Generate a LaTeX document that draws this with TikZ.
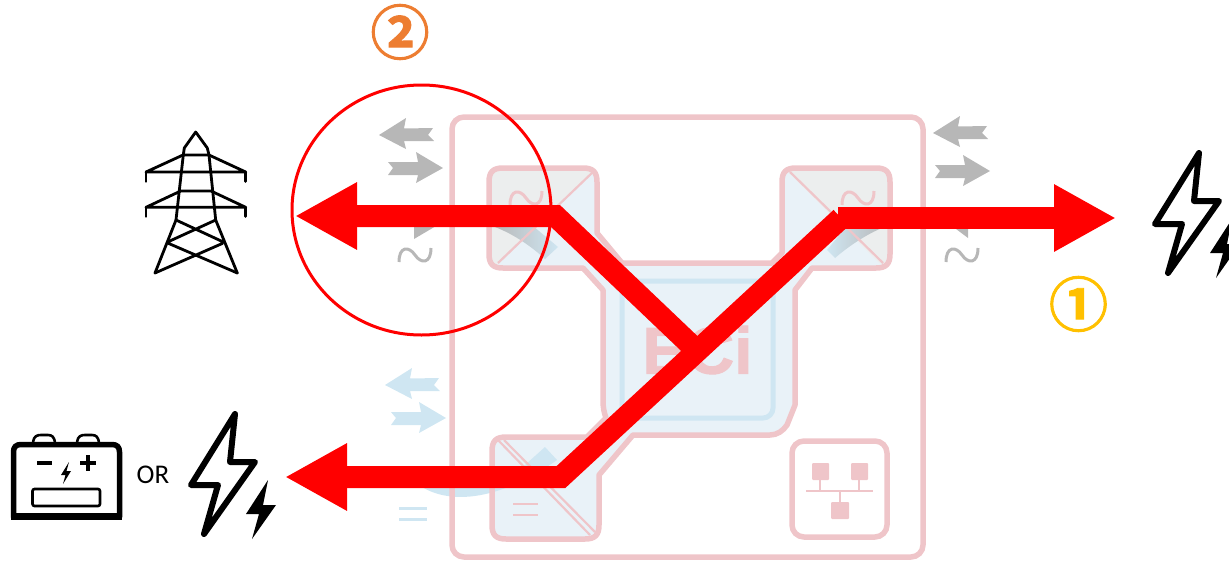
\documentclass[tikz,border=0pt]{standalone}
\usepackage{fontspec}
\setmainfont{Carlito}
\newfontfamily\cjkcirc[FakeBold=1.6]{Noto Sans CJK SC Bold}
\newfontfamily\ecifont[FakeBold=1.5]{Liberation Sans Bold}
\usetikzlibrary{arrows.meta,shapes.geometric}
\definecolor{pinkline}{HTML}{EFC5C9}
\definecolor{paleblue}{HTML}{E9F2F8}
\definecolor{skyline}{HTML}{CFE6F2}
\definecolor{graypale}{HTML}{ECEEEE}
\definecolor{grayarrow}{HTML}{B7B7B7}
\definecolor{numorange}{HTML}{ED7D31}
\definecolor{numyellow}{HTML}{FFC000}
\tikzset{
  pinkstroke/.style={draw=pinkline,line width=5.5pt,line join=round},
  redarrow/.style={draw=red,line width=22pt,line join=miter,miter limit=10,-{Triangle[length=62pt,width=63pt]}},
  blackline/.style={draw=black,line width=2.8pt,line join=round,line cap=round},
  boltline/.style={draw=black,line width=6pt,line join=round,line cap=round},
  larrow/.pic={\path[fill=#1] (0,0)--(27,-17)--(25,-6.5)--(54,-7)--(49,0)--(55,6)--(25,6)--(27,14)--cycle;},
  rarrow/.pic={\path[fill=#1] (0,0)--(-27,-16)--(-25,-6)--(-55,-6)--(-50,0)--(-55,7)--(-25,7)--(-27,15)--cycle;},
  tildesign/.pic={\draw[#1,line width=3pt,line cap=butt] (-16,7) .. controls (-16,-9) and (-6,-9) .. (0,0) .. controls (6,9) and (16,9) .. (16,-7);},
  bolt/.pic={
    \draw[boltline] (0,0)--(-44,71)--(-17,71)--(-31,120)--(20,48)--(-5,48)--cycle;
    \fill[black] (33,66)--(11,100)--(24,100)--(17,125)--(41,91)--(28,91)--cycle;
  }
}
\def\mainpath{(489,182) .. controls (489,172) and (493,168) .. (503,168) -- (583,168) .. controls (593,168) and (597,172) .. (597,182) -- (597,233) -- (622,263) -- (772,263) -- (782,253) -- (782,182) .. controls (782,172) and (786,168) .. (796,168) -- (876,168) .. controls (886,168) and (890,172) .. (890,182) -- (890,254) .. controls (890,264) and (886,268) .. (876,268) -- (812,268) -- (795,290) -- (795,405) -- (787,425) .. controls (783,431) and (777,435) .. (770,435) -- (633,435) -- (599,475) -- (599,525) .. controls (599,535) and (595,539) .. (585,539) -- (506,539) .. controls (496,539) and (492,535) .. (492,525) -- (492,451) .. controls (492,441) and (496,437) .. (506,437) -- (587,437) -- (606,418) .. controls (604,412) and (603,408) .. (603,400) -- (603,290) -- (583,268) -- (503,268) .. controls (493,268) and (489,264) .. (489,254) -- cycle}
\begin{document}
\begin{tikzpicture}[x=1pt,y=-1pt]
\useasboundingbox (0,0) rectangle (1229,560);
% converter body fill
\path[fill=paleblue] \mainpath;
\path[fill=graypale,rounded corners=7pt] (596,169)--(490,169)--(490,267)--(498,265)--cycle;
\path[fill=graypale,rounded corners=7pt] (785,169)--(889,169)--(889,267)--(881,265)--cycle;
% power-flow bands
\shade[left color=grayarrow,right color=skyline] (492,226) .. controls (510,232) and (530,245) .. (545,259) -- (558,247) -- (533,226) -- cycle;
\shade[left color=skyline,right color=grayarrow] (887,226) .. controls (870,232) and (850,245) .. (835,258) -- (827,250) -- (847,226) -- cycle;
\path[fill=skyline] (415,482) .. controls (440,503) and (490,507) .. (557,460) -- (545,447) -- (525,465) -- (470,480) -- cycle;
\path[fill=grayarrow] (414,239)--(414,226)--(436,226)--cycle;
\path[fill=grayarrow] (952,226)--(968,226)--(968,238)--cycle;
% strokes of housing
\draw[pinkstroke,rounded corners=12pt] (452,117) rectangle (923,557);
\draw[pinkline,line width=2.2pt] (594,171)--(498,263);
\draw[pinkline,line width=2.2pt] (790,172)--(883,263);
\draw[pinkline,line width=2.2pt] (498,440)--(590,535);
\draw[pinkline,line width=2.2pt] (504,440)--(595,532);
\node[font=\ecifont\fontsize{66}{66}\selectfont,text=pinkline,inner sep=0pt] (eci) at (697.5,350) {ECi};
\draw[skyline,line width=5pt,rounded corners=10pt] (622,281) rectangle (773,418);
\draw[pinkstroke] \mainpath;
\pic at (526,198) {tildesign=pinkline};
\pic at (858,198) {tildesign=pinkline};
\draw[pinkline,line width=2.4pt] (513,504)--(538,504) (513,515)--(538,515);
% network box
\draw[pinkstroke,rounded corners=12pt] (792,441) rectangle (887,537);
\fill[pinkline,rounded corners=1pt] (812,463) rectangle (829,480);
\fill[pinkline,rounded corners=1pt] (851,463) rectangle (868,480);
\fill[pinkline,rounded corners=1pt] (831,502) rectangle (849,519);
\draw[pinkline,line width=2pt] (806,491)--(873,491) (820,480)--(820,491) (859,480)--(859,491) (840,491)--(840,502);
% side arrows and signs
\pic at (379,135) {larrow=grayarrow};
\pic at (443,168) {rarrow=grayarrow};
\pic at (933,133) {larrow=grayarrow};
\pic at (990,171) {rarrow=grayarrow};
\pic at (385,385) {larrow=skyline};
\pic at (446,418) {rarrow=skyline};
\pic at (415,255) {tildesign=grayarrow};
\pic at (962,255) {tildesign=grayarrow};
\draw[skyline,line width=3pt] (399,508)--(427,508) (399,519)--(427,519);
% red flow
\coordinate (gridtip) at (295,216);
\coordinate (corner1) at (555.5,216);
\coordinate (junction) at (693,347);
\coordinate (battip) at (285,477);
\coordinate (corner2) at (561,477);
\coordinate (corner3) at (841,218);
\coordinate (loadstart) at (838,218);
\coordinate (loadtip) at (1116,218);
\draw[redarrow] (junction) -- (corner1) -- (gridtip);
\draw[redarrow] (corner3) -- (corner2) -- (battip);
\draw[redarrow] (loadstart) -- (loadtip);
\node[draw=red,line width=3pt,ellipse,minimum width=259pt,minimum height=250pt,inner sep=0pt] (focus) at (421.5,210) {};
% numbers
\node[font=\cjkcirc\fontsize{59}{59}\selectfont,text=numorange,inner sep=0pt] (num2) at (400,32) {②};
\node[font=\cjkcirc\fontsize{59}{59}\selectfont,text=numyellow,inner sep=0pt] (num1) at (1078.5,304) {①};
% tower
\draw[blackline] (155,273) -- (176,220) -- (183.3,155) -- (184.3,148) -- (195.7,132) -- (207.3,148) -- (209,155) -- (215.7,220) -- (237.3,273);
\draw[blackline] (183,155)--(209,155) (183,155)--(146,172)--(245.7,172)--(209,155);
\draw[blackline] (146,172)--(146,181.5) (245.7,172)--(245.7,181.5);
\draw[blackline] (180.7,191)--(211,191) (180.7,191)--(146,207.3)--(245.7,207.3)--(211,191);
\draw[blackline] (146,207.3)--(146,216.5) (245.7,207.3)--(245.7,216.5);
\draw[blackline] (176,220)--(222.7,241.7) (215.7,220)--(168.3,241.7) (168.3,243.3)--(237.3,273) (222.7,243.3)--(155,273);
% battery
\draw[black,line width=5.5pt,line join=round] (13.5,517) -- (13.5,452) .. controls (13.5,447) and (16,444.5) .. (21,444.5) -- (112,444.5) .. controls (117,444.5) and (119.5,447) .. (119.5,452) -- (119.5,517) -- cycle;
\draw[black,line width=7pt] (11,516)--(122,516);
\draw[black,line width=2.6pt] (33,442) .. controls (34,436) and (37,435) .. (41,435) -- (48,435) .. controls (52,435) and (54,437) .. (55,442);
\draw[black,line width=2.6pt] (77,442) .. controls (78,436) and (81,435) .. (85,435) -- (92,435) .. controls (96,435) and (98,437) .. (99,442);
\draw[black,line width=3.5pt] (37,463)--(52,463) (80,463)--(96,463) (88,455)--(88,471);
\fill[black] (69,462)--(61,475)--(65.5,475)--(63,484)--(71,471)--(66.5,471)--cycle;
\draw[black,line width=2.6pt,rounded corners=2pt] (32.5,489) rectangle (100,506);
\node[font=\fontsize{27}{27}\selectfont,inner sep=0pt] (ortext) at (153,475) {OR};
% bolts
\pic at (235,414) {bolt};
\pic at (1199,153) {bolt};
\end{tikzpicture}
\end{document}
